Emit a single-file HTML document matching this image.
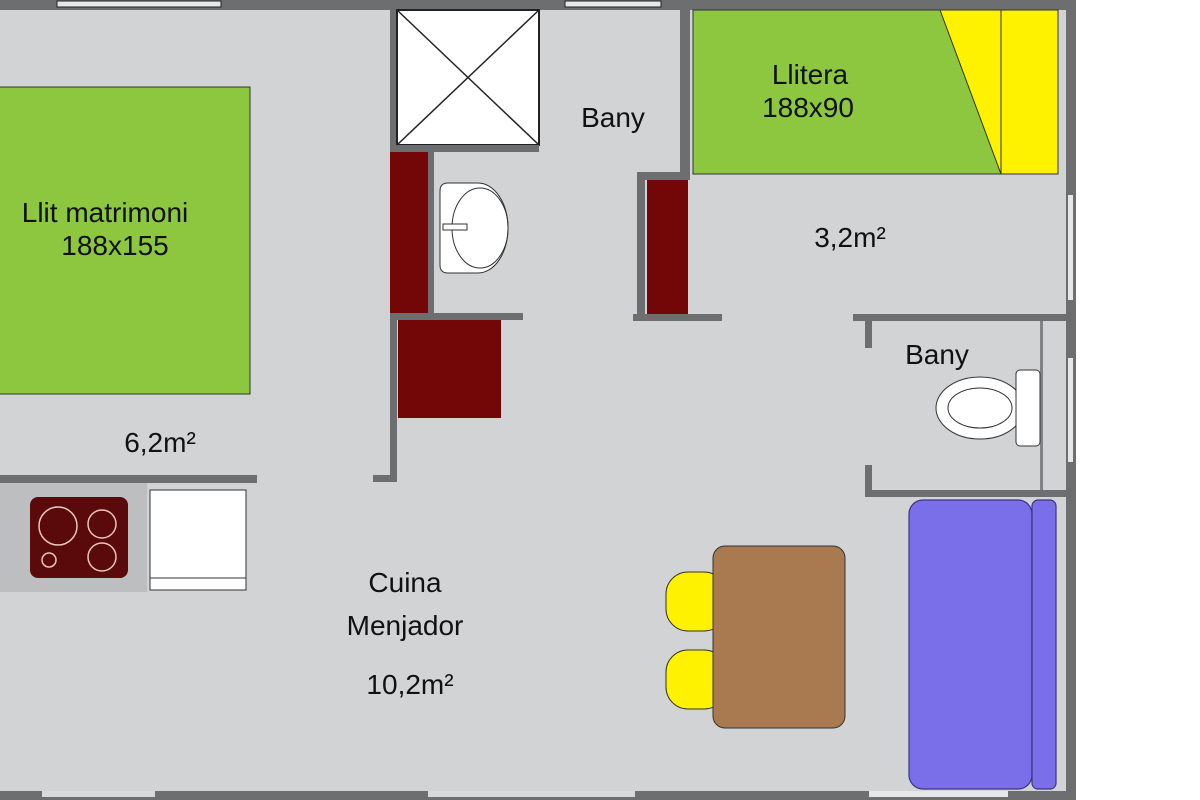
<!DOCTYPE html>
<html><head><meta charset="utf-8"><style>
html,body{margin:0;padding:0;background:#fff;width:1200px;height:800px;overflow:hidden}
svg text{font-family:"Liberation Sans",sans-serif;font-size:28px;fill:#111;text-anchor:middle}
</style></head><body>
<svg width="1200" height="800" viewBox="0 0 1200 800" xmlns="http://www.w3.org/2000/svg">
<rect x="0" y="0" width="1076" height="800" fill="#d1d3d4"/>
<rect x="0" y="0" width="1076" height="10" fill="#6d6e70"/>
<rect x="57" y="1" width="164" height="6" fill="#e6e7e8" stroke="#222" stroke-width="1"/>
<rect x="565" y="1" width="96" height="6" fill="#e6e7e8" stroke="#222" stroke-width="1"/>
<rect x="1066" y="0" width="10" height="800" fill="#6d6e70"/>
<rect x="1068" y="195" width="5" height="105" fill="#e6e7e8"/>
<rect x="1068" y="358" width="5" height="104" fill="#e6e7e8"/>
<rect x="0" y="791" width="1076" height="9" fill="#6d6e70"/>
<rect x="42" y="791" width="113" height="6" fill="#d8d9da"/>
<rect x="428" y="791" width="207" height="6" fill="#d8d9da"/>
<rect x="869" y="791" width="139" height="6" fill="#e6e7e8"/>
<rect x="-2" y="87" width="252" height="307" fill="#8dc63f" stroke="#333" stroke-width="1"/>
<text x="105" y="222">Llit matrimoni</text>
<text x="115" y="255">188x155</text>
<text x="160" y="452">6,2m²</text>
<rect x="0" y="475" width="257" height="8" fill="#6d6e70"/>
<rect x="0" y="483" width="147" height="109" fill="#bcbec0"/>
<rect x="30" y="497" width="98" height="81" rx="8" fill="#5a0a0a"/>
<circle cx="58" cy="526" r="19" fill="none" stroke="#e8c8c0" stroke-width="1.5"/>
<circle cx="102" cy="524" r="14" fill="none" stroke="#e8c8c0" stroke-width="1.5"/>
<circle cx="102" cy="557" r="14" fill="none" stroke="#e8c8c0" stroke-width="1.5"/>
<circle cx="49" cy="560" r="7" fill="none" stroke="#e8c8c0" stroke-width="1.5"/>
<rect x="150" y="490" width="96" height="100" fill="#fff" stroke="#333" stroke-width="1"/>
<line x1="150" y1="578" x2="246" y2="578" stroke="#333"/>
<rect x="390" y="0" width="7" height="480" fill="#6d6e70"/>
<rect x="373" y="475" width="24" height="7" fill="#6d6e70"/>
<rect x="397" y="10" width="142" height="135" fill="#fff" stroke="#222" stroke-width="2"/>
<line x1="397" y1="10" x2="539" y2="145" stroke="#222" stroke-width="1.5"/>
<line x1="539" y1="10" x2="397" y2="145" stroke="#222" stroke-width="1.5"/>
<rect x="390" y="145" width="149" height="7" fill="#6d6e70"/>
<rect x="390" y="152" width="38" height="161" fill="#730606"/>
<rect x="428" y="152" width="6" height="162" fill="#6d6e70"/>
<rect x="390" y="313" width="133" height="7" fill="#6d6e70"/>
<rect x="398" y="320" width="103" height="98" fill="#730606"/>
<path d="M448 183 H478 A30 45 0 0 1 478 273 H448 Q440 273 440 265 V191 Q440 183 448 183 Z" fill="#fff" stroke="#333" stroke-width="1"/>
<ellipse cx="480" cy="228" rx="28" ry="40" fill="none" stroke="#333" stroke-width="1"/>
<rect x="443" y="224" width="24" height="6" fill="#fff" stroke="#333" stroke-width="1"/>
<text x="613" y="127">Bany</text>
<rect x="680" y="0" width="10" height="180" fill="#6d6e70"/>
<rect x="637" y="172" width="53" height="8" fill="#6d6e70"/>
<rect x="637" y="172" width="8" height="148" fill="#6d6e70"/>
<rect x="647" y="180" width="41" height="138" fill="#730606"/>
<rect x="633" y="314" width="89" height="7" fill="#6d6e70"/>
<rect x="693" y="10" width="365" height="164" fill="#8dc63f" stroke="#333" stroke-width="1"/>
<polygon points="940,10 1058,10 1058,174 1001,174" fill="#fff200" stroke="#333" stroke-width="1"/>
<line x1="1001" y1="10" x2="1001" y2="174" stroke="#333" stroke-width="1"/>
<text x="810" y="84">Llitera</text>
<text x="808" y="117">188x90</text>
<text x="850" y="247">3,2m²</text>
<rect x="853" y="314" width="213" height="7" fill="#6d6e70"/>
<rect x="865" y="314" width="7" height="34" fill="#6d6e70"/>
<rect x="865" y="465" width="7" height="32" fill="#6d6e70"/>
<rect x="865" y="490" width="201" height="7" fill="#6d6e70"/>
<rect x="1040" y="321" width="3" height="169" fill="#808285"/>
<text x="937" y="364">Bany</text>
<ellipse cx="980" cy="408" rx="44" ry="31" fill="#fff" stroke="#333" stroke-width="1"/>
<ellipse cx="980" cy="408" rx="32" ry="20" fill="#fff" stroke="#333" stroke-width="1"/>
<rect x="1016" y="370" width="24" height="76" rx="4" fill="#fff" stroke="#333" stroke-width="1"/>
<rect x="909" y="500" width="123" height="289" rx="14" fill="#7a6fe8" stroke="#3a3580" stroke-width="1.2"/>
<rect x="1032" y="500" width="24" height="289" rx="6" fill="#7a6fe8" stroke="#3a3580" stroke-width="1.2"/>
<rect x="666" y="572" width="60" height="59" rx="22" fill="#fff200" stroke="#333" stroke-width="1"/>
<rect x="666" y="650" width="60" height="59" rx="22" fill="#fff200" stroke="#333" stroke-width="1"/>
<rect x="713" y="546" width="132" height="182" rx="12" fill="#a97a4f" stroke="#333" stroke-width="1"/>
<text x="405" y="592">Cuina</text>
<text x="405" y="635">Menjador</text>
<text x="410" y="694">10,2m²</text>
</svg>
</body></html>
